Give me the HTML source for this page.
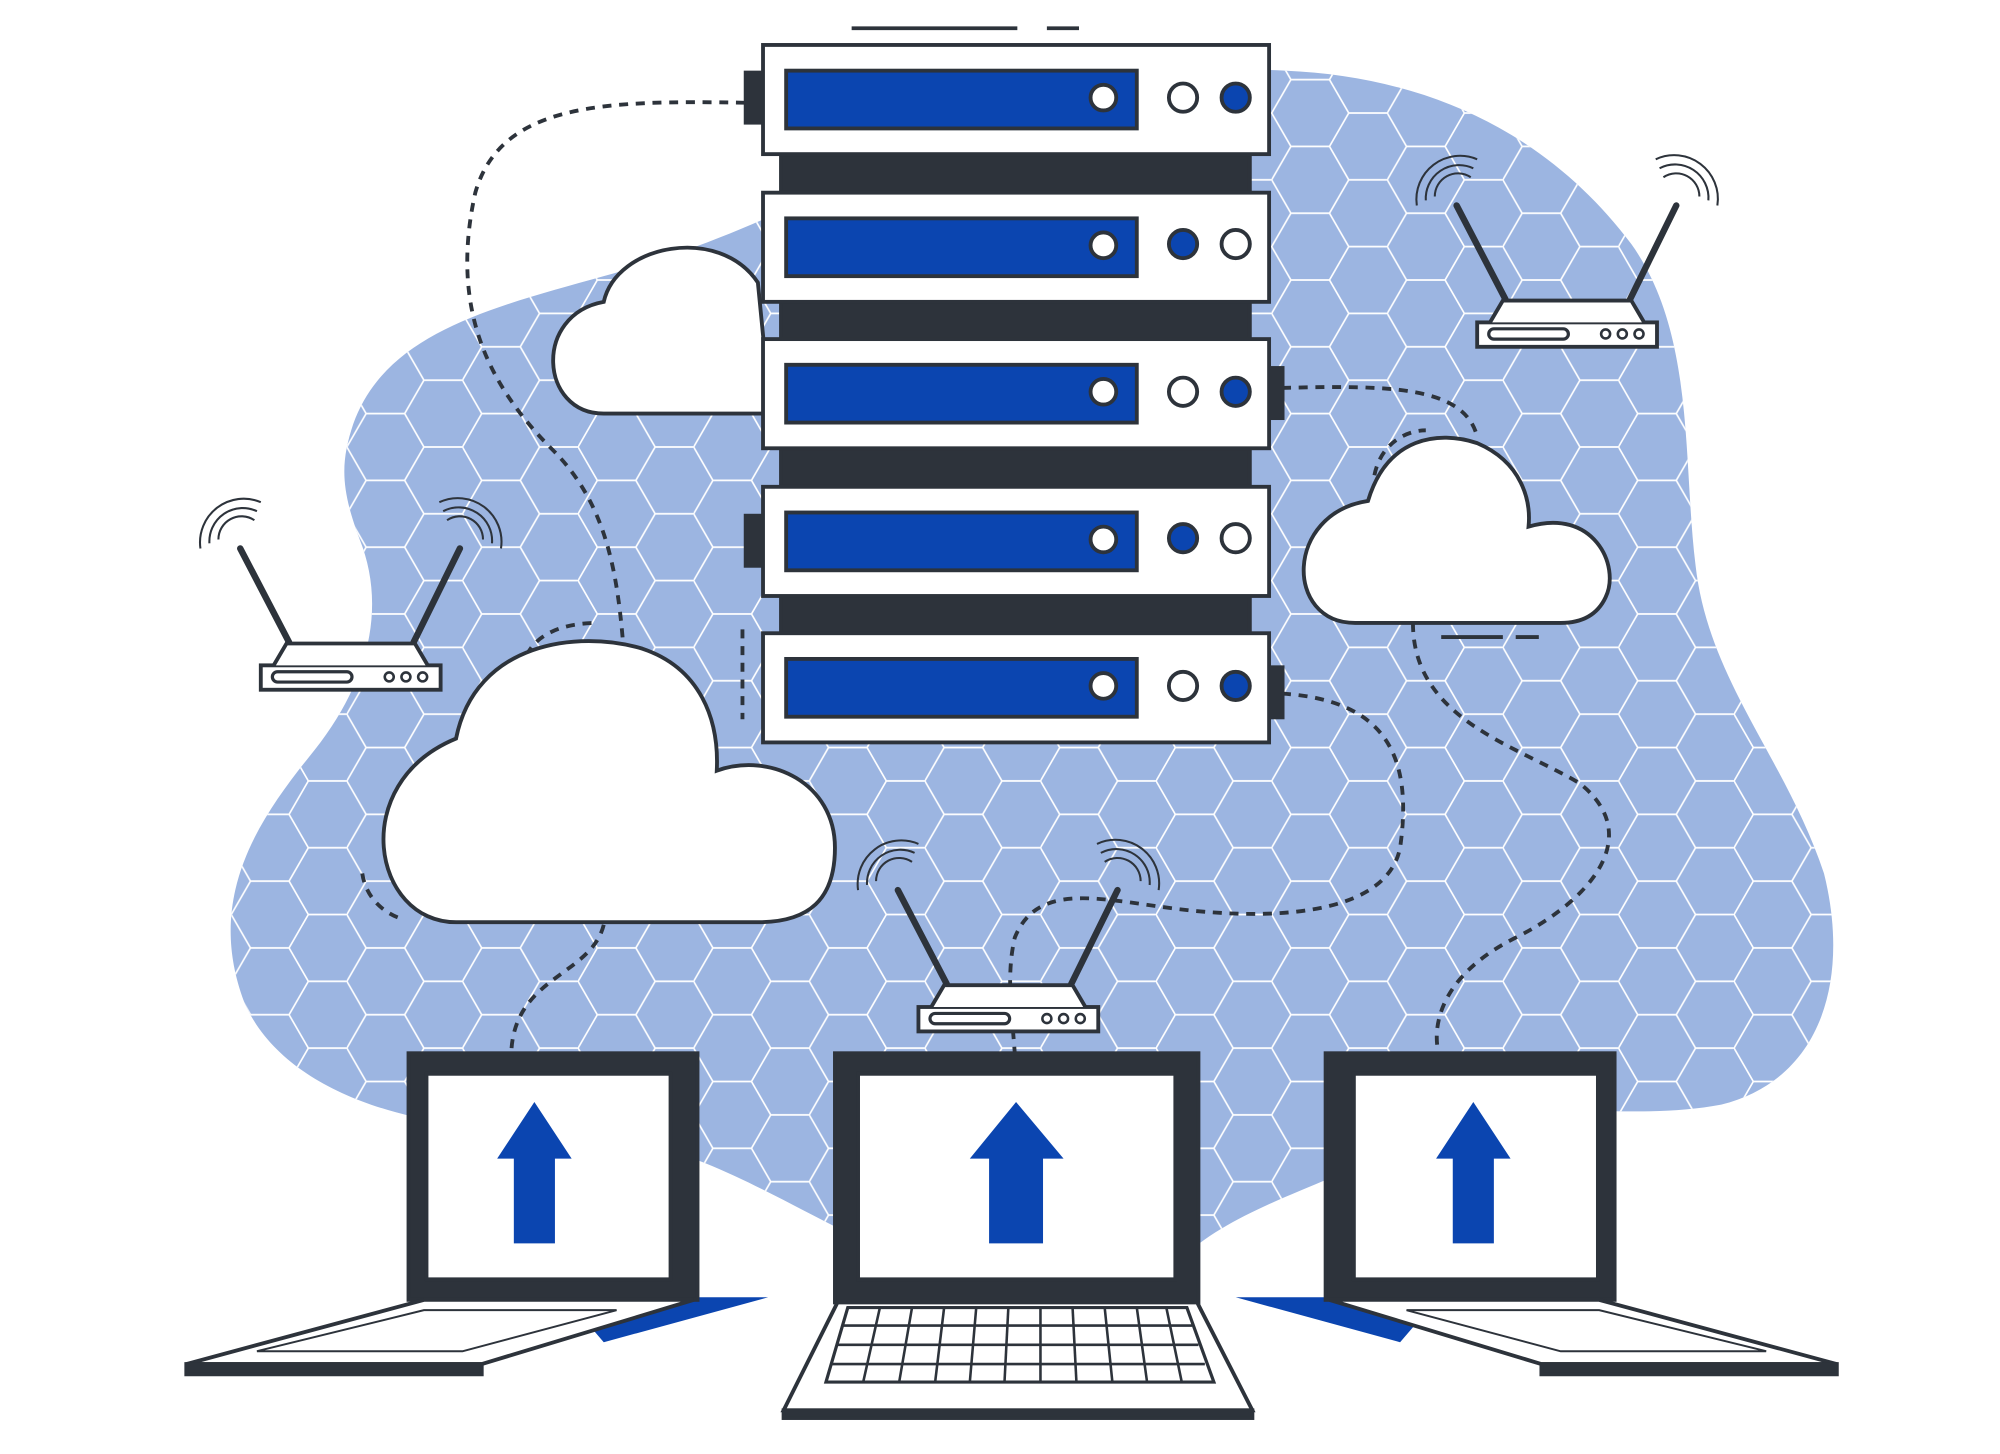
<!DOCTYPE html>
<html><head><meta charset="utf-8"><style>
html,body{margin:0;padding:0;background:#fff;}
svg{display:block;}
</style></head><body>
<svg width="2000" height="1454" viewBox="0 0 1557 1132" xmlns="http://www.w3.org/2000/svg">
<defs>
<pattern id="hex" width="90" height="52" patternUnits="userSpaceOnUse" x="0" y="10">
<path d="M0 26 L15 0 L45 0 L60 26 L45 52 L15 52 Z M60 26 L90 26" fill="none" stroke="#fff" stroke-width="1.3"/>
</pattern>
<clipPath id="blobclip"><path id="blobp" d="M275 330 C300 260 380 240 470 215 C560 190 620 160 700 120 C800 70 900 50 1000 55 C1120 60 1210 110 1270 190 C1320 260 1310 360 1320 440 C1330 530 1390 590 1420 680 C1440 760 1420 840 1340 860 C1260 875 1180 850 1120 880 C1040 920 960 940 920 980 C860 1010 740 1000 660 960 C580 920 520 880 420 880 C320 880 220 850 190 780 C160 700 200 640 240 590 C290 530 300 470 280 420 C265 380 265 360 275 330 Z"/></clipPath>
</defs>
<use href="#blobp" fill="#9cb5e1"/>
<rect x="0" y="0" width="1557" height="1132" fill="url(#hex)" clip-path="url(#blobclip)"/>

<!-- dashed connectors -->
<g fill="none" stroke="#2d333b" stroke-width="3" stroke-dasharray="7 6">
<path d="M580 80 C470 78 390 80 370 150 C350 240 380 300 430 350 C470 390 480 440 485 500"/>
<path d="M998 302 C1080 300 1140 300 1150 340"/>
<path d="M998 540 C1080 545 1100 590 1090 660 C1080 710 1000 715 940 710 C870 705 810 680 790 730 C783 760 788 790 790 820"/>
<path d="M1100 485 C1100 560 1180 580 1230 610 C1280 650 1240 700 1180 730 C1120 760 1115 800 1120 820"/>
<path d="M470 720 C460 760 400 760 398 820"/>
<path d="M1070 370 C1075 345 1095 335 1110 335"/>
<path d="M410 510 C420 490 445 485 465 485"/>
<path d="M282 680 C285 700 300 712 315 716"/>
<path d="M578 490 L578 560"/>
</g>
<g stroke="#2d333b" stroke-width="3"><line x1="663" y1="22" x2="792" y2="22"/><line x1="815" y1="22" x2="840" y2="22"/><line x1="1122" y1="496" x2="1170" y2="496"/><line x1="1180" y1="496" x2="1198" y2="496"/></g>

<!-- clouds -->
<g fill="#fff" stroke="#2d333b" stroke-width="3">
<path d="M470 322 C420 322 415 245 470 235 C480 190 560 175 590 220 L600 322 Z"/>
<path d="M355 718 C290 718 270 610 355 575 C370 500 450 490 500 505 C545 520 560 560 558 600 C600 585 650 610 650 660 C650 700 630 718 590 718 Z"/>
<path d="M1055 485 C1000 485 1000 400 1065 390 C1080 340 1120 335 1150 345 C1185 360 1192 390 1190 410 C1240 395 1262 440 1250 465 C1243 480 1230 485 1215 485 Z"/>
</g>

<!-- server -->
<g stroke="#2d333b" stroke-width="3">
<rect x="608" y="118" width="365" height="34" fill="#2d333b"/>
<rect x="608" y="232" width="365" height="34" fill="#2d333b"/>
<rect x="608" y="347" width="365" height="34" fill="#2d333b"/>
<rect x="608" y="461" width="365" height="34" fill="#2d333b"/>
</g>
<g id="unit">
<rect x="594" y="35" width="394" height="85" fill="#fff" stroke="#2d333b" stroke-width="3"/>
<rect x="612" y="55" width="273" height="45" fill="#0b45b0" stroke="#2d333b" stroke-width="3"/>
<circle cx="859" cy="76" r="10" fill="#fff" stroke="#2d333b" stroke-width="3"/>
</g>
<use href="#unit" y="115"/><use href="#unit" y="229"/><use href="#unit" y="344"/><use href="#unit" y="458"/>
<g stroke="#2d333b" stroke-width="3">
<circle cx="921" cy="76" r="11" fill="#fff"/><circle cx="962" cy="76" r="11" fill="#0b45b0"/>
<circle cx="921" cy="190" r="11" fill="#0b45b0"/><circle cx="962" cy="190" r="11" fill="#fff"/>
<circle cx="921" cy="305" r="11" fill="#fff"/><circle cx="962" cy="305" r="11" fill="#0b45b0"/>
<circle cx="921" cy="419" r="11" fill="#0b45b0"/><circle cx="962" cy="419" r="11" fill="#fff"/>
<circle cx="921" cy="534" r="11" fill="#fff"/><circle cx="962" cy="534" r="11" fill="#0b45b0"/>
</g>
<g fill="#2d333b"><rect x="579" y="55" width="15" height="42"/><rect x="988" y="285" width="12" height="42"/><rect x="579" y="400" width="15" height="42"/><rect x="988" y="518" width="12" height="42"/></g>

<!-- routers -->
<g id="router">
<g stroke="#2d333b" stroke-width="5" stroke-linecap="round"><line x1="187" y1="427" x2="225" y2="500"/><line x1="358" y1="427" x2="322" y2="500"/></g>
<g fill="none" stroke="#2d333b" stroke-width="1.6">
<path d="M170 420 A18 18 0 0 1 198 405"/><path d="M163 423 A26 26 0 0 1 200 398"/><path d="M156 427 A34 34 0 0 1 203 391"/>
<path d="M348 405 A18 18 0 0 1 376 420"/><path d="M345 398 A26 26 0 0 1 383 423"/><path d="M342 391 A34 34 0 0 1 390 427"/>
</g>
<rect x="203" y="518" width="140" height="19" fill="#fff" stroke="#2d333b" stroke-width="3"/>
<path d="M213 518 L223 501 L323 501 L333 518" fill="#fff" stroke="#2d333b" stroke-width="3"/>
<rect x="212" y="523" width="62" height="8" rx="4" fill="#fff" stroke="#2d333b" stroke-width="2.5"/>
<circle cx="303" cy="527" r="3.5" fill="#fff" stroke="#2d333b" stroke-width="2"/><circle cx="316" cy="527" r="3.5" fill="#fff" stroke="#2d333b" stroke-width="2"/><circle cx="329" cy="527" r="3.5" fill="#fff" stroke="#2d333b" stroke-width="2"/>
</g>
<use href="#router" x="947" y="-267"/>
<use href="#router" x="512" y="266"/>

<!-- laptops -->
<g stroke="#2d333b" stroke-width="3">
<path d="M440 1010 L598 1010 L470 1045 Z" fill="#0b45b0" stroke="none"/>
<rect x="318" y="820" width="225" height="192" fill="#2d333b"/>
<rect x="332" y="836" width="190" height="160" fill="#fff"/>
<path d="M145 1062 L330 1012 L540 1012 L375 1062 Z" fill="#fff"/>
<path d="M145 1062 L375 1062 L375 1070 L145 1070 Z" fill="#2d333b"/>
<path d="M200 1052 L330 1020 L480 1020 L360 1052 Z" fill="none" stroke-width="1.5"/>

<path d="M1120 1010 L962 1010 L1090 1045 Z" fill="#0b45b0" stroke="none"/>
<rect x="1032" y="820" width="225" height="192" fill="#2d333b"/>
<rect x="1054" y="836" width="190" height="160" fill="#fff"/>
<path d="M1430 1062 L1245 1012 L1035 1012 L1200 1062 Z" fill="#fff"/>
<path d="M1430 1062 L1200 1062 L1200 1070 L1430 1070 Z" fill="#2d333b"/>
<path d="M1375 1052 L1245 1020 L1095 1020 L1215 1052 Z" fill="none" stroke-width="1.5"/>

<rect x="650" y="820" width="283" height="194" fill="#2d333b"/>
<rect x="668" y="836" width="247" height="160" fill="#fff"/>
<path d="M610 1098 L652 1014 L932 1014 L975 1098 Z" fill="#fff"/>
<rect x="610" y="1098" width="365" height="6" fill="#2d333b"/>
<path d="M643 1076 L660 1018 L924 1018 L945 1076 Z" fill="none" stroke-width="2.5"/>
<g stroke-width="2"><line x1="656" y1="1032" x2="928" y2="1032"/><line x1="652" y1="1047" x2="933" y2="1047"/><line x1="647" y1="1062" x2="938" y2="1062"/>
<line x1="685" y1="1018" x2="672" y2="1076"/><line x1="710" y1="1018" x2="700" y2="1076"/><line x1="735" y1="1018" x2="728" y2="1076"/><line x1="760" y1="1018" x2="755" y2="1076"/><line x1="785" y1="1018" x2="782" y2="1076"/><line x1="810" y1="1018" x2="810" y2="1076"/><line x1="835" y1="1018" x2="838" y2="1076"/><line x1="860" y1="1018" x2="866" y2="1076"/><line x1="885" y1="1018" x2="893" y2="1076"/><line x1="908" y1="1018" x2="920" y2="1076"/></g>
</g>
<g fill="#0b45b0">
<path d="M416 858 L445 902 L432 902 L432 968 L400 968 L400 902 L387 902 Z"/>
<path d="M791 858 L828 902 L812 902 L812 968 L770 968 L770 902 L755 902 Z"/>
<path d="M1147 858 L1176 902 L1163 902 L1163 968 L1131 968 L1131 902 L1118 902 Z"/>
</g>
</svg>
</body></html>
